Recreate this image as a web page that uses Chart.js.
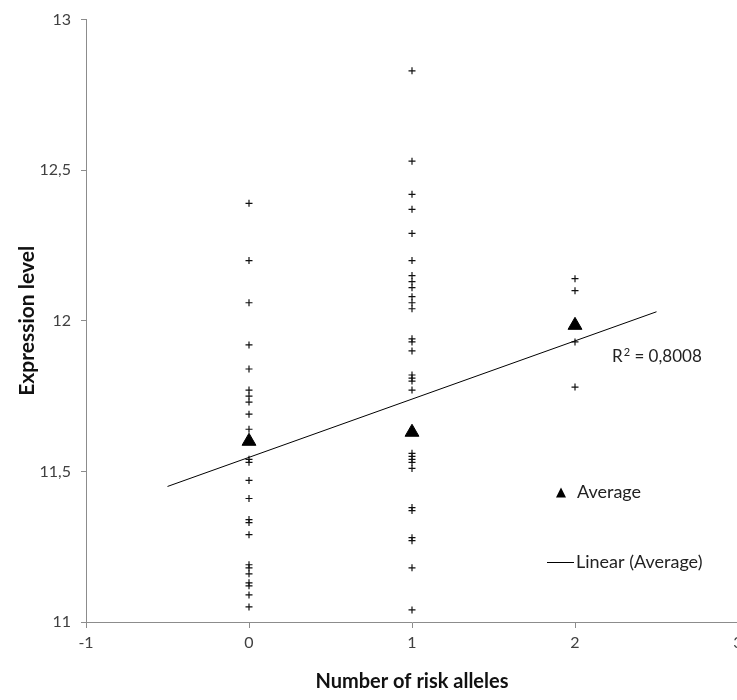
<!DOCTYPE html>
<html>
<head>
<meta charset="utf-8">
<script src="https://cdn.jsdelivr.net/npm/chart.js@4.4.0/dist/chart.umd.min.js"></script>
<style>
  html, body { margin: 0; padding: 0; background: #fff; overflow: hidden; }
  canvas { display: block; }
</style>
</head>
<body>
<canvas id="chart" width="760" height="700"></canvas>
<script>
// expression values per genotype group (number of risk alleles)
const riskAlleles = [0, 1, 2];
const group0 = [12.39, 12.20, 12.06, 11.92, 11.84, 11.77, 11.75, 11.73, 11.69, 11.64,
                11.54, 11.53, 11.47, 11.41, 11.34, 11.33, 11.29, 11.19, 11.18, 11.16,
                11.13, 11.12, 11.09, 11.05];
const group1 = [12.83, 12.53, 12.42, 12.37, 12.29, 12.20, 12.15, 12.13, 12.11, 12.08,
                12.06, 12.04, 11.94, 11.93, 11.90, 11.82, 11.81, 11.80, 11.77, 11.56,
                11.55, 11.54, 11.53, 11.51, 11.38, 11.37, 11.28, 11.27, 11.18, 11.04];
const group2 = [12.14, 12.10, 11.93, 11.78];
const averages = [11.60, 11.63, 11.985];

// linear trendline of the averages, end points
const trendX = [-0.5, 2.5];
const trendY = [11.45, 12.03];
const rSquared = '0,8008';

const groups = [group0, group1, group2];
const font = 'Lato, "Liberation Sans", sans-serif';

const samplePoints = groups.flatMap((g, i) => g.map(v => ({ x: riskAlleles[i], y: v })));
const averagePoints = averages.map((v, i) => ({ x: riskAlleles[i], y: v }));
const trendPoints = trendX.map((v, i) => ({ x: v, y: trendY[i] }));

// legend + R² label drawn inside the plot area
const overlay = {
  id: 'overlay',
  afterDatasetsDraw(chart) {
    const { ctx, scales: { x, y } } = chart;
    ctx.save();
    ctx.fillStyle = '#222';
    ctx.strokeStyle = '#000';
    ctx.textBaseline = 'alphabetic';

    // R² = ... with a raised 2
    let tx = x.getPixelForValue(2.227);
    const ty = y.getPixelForValue(11.884) + 6;
    ctx.font = '17px ' + font;
    ctx.fillText('R', tx, ty);
    tx += ctx.measureText('R').width + 1;
    ctx.font = '11px ' + font;
    ctx.fillText('2', tx, ty - 6);
    tx += ctx.measureText('2').width;
    ctx.font = '17px ' + font;
    ctx.fillText(' = ' + rSquared, tx, ty);

    ctx.textBaseline = 'middle';
    // Average entry
    ctx.fillStyle = '#000';
    ctx.beginPath();
    ctx.moveTo(561, 487.5); ctx.lineTo(566, 497.5); ctx.lineTo(556, 497.5); ctx.closePath();
    ctx.fill();
    ctx.fillStyle = '#222';
    ctx.font = '18px ' + font;
    ctx.fillText(chart.data.datasets[1].label, 577, 492);

    // Linear (Average) entry
    ctx.lineWidth = 1;
    ctx.beginPath();
    ctx.moveTo(547, 562.5); ctx.lineTo(574, 562.5);
    ctx.stroke();
    ctx.fillText(chart.data.datasets[2].label, 576, 562);
    ctx.restore();
  }
};

new Chart(document.getElementById('chart'), {
  type: 'scatter',
  data: {
    datasets: [
      {
        label: 'Samples',
        data: samplePoints,
        pointStyle: 'cross',
        radius: 3.5,
        borderWidth: 1.2,
        borderColor: '#111',
        order: 3
      },
      {
        label: 'Average',
        data: averagePoints,
        pointStyle: 'triangle',
        radius: 8,
        borderWidth: 1,
        backgroundColor: '#000',
        borderColor: '#000',
        order: 1
      },
      {
        label: 'Linear (Average)',
        type: 'line',
        data: trendPoints,
        borderColor: '#000',
        borderWidth: 1,
        pointRadius: 0,
        order: 2
      }
    ]
  },
  plugins: [overlay],
  options: {
    responsive: false,
    animation: false,
    layout: { padding: { top: 18, right: 22, left: 0, bottom: 0 } },
    plugins: { legend: { display: false }, tooltip: { enabled: false } },
    scales: {
      x: {
        type: 'linear',
        min: -1,
        max: 3,
        afterFit(scale) { scale.height = 78; },
        border: { color: '#8c8c8c', width: 1 },
        grid: { drawOnChartArea: false, tickLength: 6, color: '#8c8c8c' },
        ticks: {
          stepSize: 1,
          padding: 5,
          color: '#404040',
          font: { family: font, size: 16 }
        },
        title: {
          display: true,
          text: 'Number of risk alleles',
          color: '#111',
          font: { family: font, size: 20, weight: 'bold' },
          padding: { top: 0, bottom: 6 }
        }
      },
      y: {
        min: 11,
        max: 13,
        afterFit(scale) { scale.width = 86; },
        border: { color: '#8c8c8c', width: 1 },
        grid: { drawOnChartArea: false, tickLength: 5, color: '#8c8c8c' },
        ticks: {
          stepSize: 0.5,
          padding: 10,
          color: '#404040',
          font: { family: font, size: 16 },
          callback: v => String(v).replace('.', ',')
        },
        title: {
          display: true,
          text: 'Expression level',
          color: '#111',
          font: { family: font, size: 21, weight: 'bold' },
          padding: { top: 15, bottom: 0 }
        }
      }
    }
  }
});
</script>
</body>
</html>
